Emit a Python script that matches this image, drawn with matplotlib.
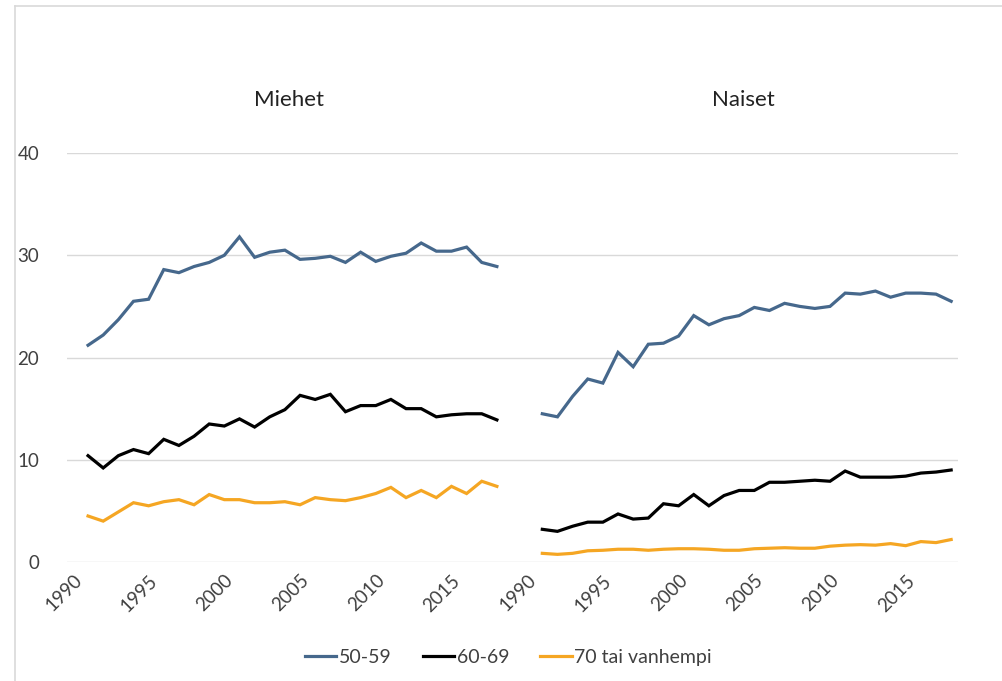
import numpy as np
import matplotlib.pyplot as plt
from matplotlib.lines import Line2D

plt.rcParams["font.family"] = ["Lato", "DejaVu Sans"]

YEARS = list(range(1991, 2019))
TICK_YEARS = [1990, 1995, 2000, 2005, 2010, 2015]
SERIES = ["50-59", "60-69", "70 tai vanhempi"]
PANELS = ["Miehet", "Naiset"]

men_50_59 = [21.2, 22.2, 23.7, 25.5, 25.7, 28.6, 28.3, 28.9, 29.3, 30.0,
             31.8, 29.8, 30.3, 30.5, 29.6, 29.7, 29.9, 29.3, 30.3, 29.4,
             29.9, 30.2, 31.2, 30.4, 30.4, 30.8, 29.3, 28.9]
men_60_69 = [10.4, 9.2, 10.4, 11.0, 10.6, 12.0, 11.4, 12.3, 13.5, 13.3,
             14.0, 13.2, 14.2, 14.9, 16.3, 15.9, 16.4, 14.7, 15.3, 15.3,
             15.9, 15.0, 15.0, 14.2, 14.4, 14.5, 14.5, 13.9]
men_70 = [4.5, 4.0, 4.9, 5.8, 5.5, 5.9, 6.1, 5.6, 6.6, 6.1,
          6.1, 5.8, 5.8, 5.9, 5.6, 6.3, 6.1, 6.0, 6.3, 6.7,
          7.3, 6.3, 7.0, 6.3, 7.4, 6.7, 7.9, 7.4]

women_50_59 = [14.5, 14.2, 16.2, 17.9, 17.5, 20.5, 19.1, 21.3, 21.4, 22.1,
               24.1, 23.2, 23.8, 24.1, 24.9, 24.6, 25.3, 25.0, 24.8, 25.0,
               26.3, 26.2, 26.5, 25.9, 26.3, 26.3, 26.2, 25.5]
women_60_69 = [3.2, 3.0, 3.5, 3.9, 3.9, 4.7, 4.2, 4.3, 5.7, 5.5,
               6.6, 5.5, 6.5, 7.0, 7.0, 7.8, 7.8, 7.9, 8.0, 7.9,
               8.9, 8.3, 8.3, 8.3, 8.4, 8.7, 8.8, 9.0]
women_70 = [0.85, 0.75, 0.85, 1.1, 1.15, 1.25, 1.25, 1.15, 1.25, 1.3,
            1.3, 1.25, 1.15, 1.15, 1.3, 1.35, 1.4, 1.35, 1.35, 1.55,
            1.65, 1.7, 1.65, 1.8, 1.6, 2.0, 1.9, 2.2]

COLORS = ["#46688c", "#000000", "#f5a623"]
TXT = "#404040"

fig = plt.figure(figsize=(10.03, 6.81), dpi=100)
ax = fig.add_axes([0.0668, 0.1747, 0.888, 0.6006])

# both panels share one category axis: 1990..2018, blank slot, 1990..2018
offsets = [0, 30]
panel_data = [[men_50_59, men_60_69, men_70],
              [women_50_59, women_60_69, women_70]]
for off, data in zip(offsets, panel_data):
    x = np.array(YEARS) - 1990 + off
    for vals, col in zip(data, COLORS):
        ax.plot(x, vals, color=col, lw=2.3, solid_joinstyle="miter")

ticks = [t - 1990 + off for off in offsets for t in TICK_YEARS]
labels = [str(t) for off in offsets for t in TICK_YEARS]
ax.set_xticks(ticks)
ax.set_xticklabels(labels, rotation=45, ha="right", va="top",
                   rotation_mode="anchor", fontsize=13.5, color=TXT)
ax.tick_params(axis="x", length=0, pad=7)
ax.set_xlim(-0.39, 58.43)

ax.set_ylim(0, 40)
ax.set_yticks([0, 10, 20, 30, 40])
ax.tick_params(axis="y", length=0, pad=20, labelsize=13.5, labelcolor=TXT)
ax.yaxis.grid(True, color="#d9d9d9", lw=1)
ax.set_axisbelow(True)
for s in ax.spines.values():
    s.set_visible(False)

# panel titles
for name, cx in zip(PANELS, [14.3, 44.3]):
    ax.text(cx, 45.2 / 40, name, transform=ax.get_xaxis_transform(),
            ha="center", va="center", fontsize=16, color="#222222")

handles = [Line2D([], [], color=c, lw=2.3) for c in COLORS]
fig.legend(handles, SERIES, loc="center", bbox_to_anchor=(0.507, 0.035),
           ncol=3, frameon=False, fontsize=14, handlelength=1.6,
           handletextpad=0.15, columnspacing=1.6, labelcolor=TXT)

# chart-area frame lines
fig.add_artist(Line2D([15 / 1003, 1.0], [1 - 6 / 681] * 2, color="#d9d9d9", lw=1.2))
fig.add_artist(Line2D([15 / 1003] * 2, [0, 1 - 6 / 681], color="#d9d9d9", lw=1.2))

fig.savefig("out.png", dpi=100)
